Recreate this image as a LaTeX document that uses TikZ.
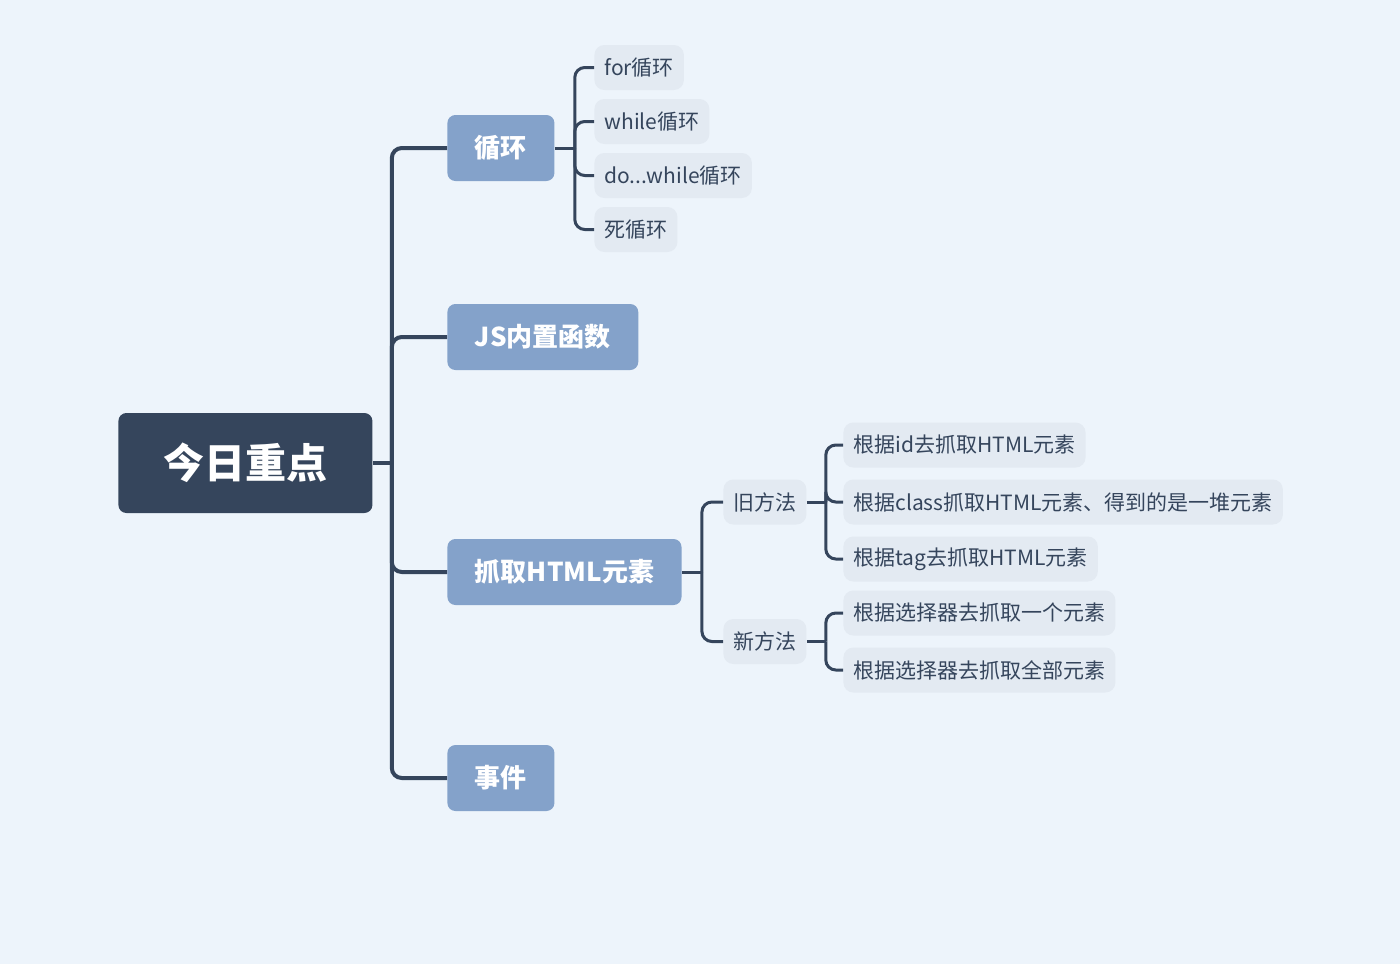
\documentclass[tikz,border=0pt]{standalone}
\usepackage{fontspec}
\setmainfont{Noto Sans CJK SC}
\definecolor{bgcol}{HTML}{EDF4FB}
\definecolor{rootcol}{HTML}{35455C}
\definecolor{topiccol}{HTML}{84A2CA}
\definecolor{leafcol}{HTML}{E3EAF2}
\tikzset{
  rootbox/.style={fill=rootcol, text=white, rounded corners=4pt, anchor=west,
    font=\bfseries\fontsize{20.5pt}{24pt}\selectfont, minimum width=127pt, minimum height=50pt},
  topicbox/.style={fill=topiccol, text=white, rounded corners=4pt, anchor=west,
    font=\bfseries\fontsize{13pt}{15pt}\selectfont, inner xsep=13.75pt, minimum height=33pt},
  leafbox/.style={fill=leafcol, text=rootcol, rounded corners=5pt, anchor=west,
    font=\fontsize{10.5pt}{12pt}\selectfont, inner xsep=5pt, minimum height=22.5pt},
  branch/.style={draw=rootcol, line width=2pt, rounded corners=5pt},
  twig/.style={draw=rootcol, line width=1.5pt, rounded corners=5pt}
}
\begin{document}
\begin{tikzpicture}[x=0.5pt, y=-0.5pt]
  % Background
  \fill[bgcol] (0,0) rectangle (1400,964);
  \useasboundingbox (0,0) rectangle (1400,964);
  % Root
  \node[rootbox] (root) at (118,463) {今日重点};
  % Topics
  \node[topicbox] (loop)  at (447,148) {循环};
  \node[topicbox] (jsfn)  at (447,337) {JS内置函数};
  \node[topicbox] (grab)  at (447,572) {抓取HTML元素};
  \node[topicbox] (event) at (447,778) {事件};
  % Loop leaves
  \node[leafbox] (forloop)   at (594,67.5)  {for循环};
  \node[leafbox] (whileloop) at (594,121.5) {while循环};
  \node[leafbox] (doloop)    at (594,175.5) {do...while循环};
  \node[leafbox] (deadloop)  at (594,229.5) {死循环};
  % Grab: old and new
  \node[leafbox] (oldway) at (723,502)   {旧方法};
  \node[leafbox] (newway) at (723,641.5) {新方法};
  \node[leafbox] (byid)    at (843,445) {根据id去抓取HTML元素};
  \node[leafbox] (byclass) at (843,502) {根据class抓取HTML元素、得到的是一堆元素};
  \node[leafbox] (bytag)   at (843,559) {根据tag去抓取HTML元素};
  \node[leafbox] (selone)  at (843,613) {根据选择器去抓取一个元素};
  \node[leafbox] (selall)  at (843,670) {根据选择器去抓取全部元素};
  % Root connectors
  \coordinate (rootj) at ([xshift=9.5pt]root.east);
  \draw[branch] (root.east) -- (rootj);
  \foreach \t in {loop,jsfn,grab,event}
    \draw[branch] (rootj) |- (\t.west);
  % Loop connectors
  \coordinate (loopj) at ([xshift=10pt]loop.east);
  \draw[twig] (loop.east) -- (loopj);
  \foreach \t in {forloop,whileloop,doloop,deadloop}
    \draw[twig] (loopj) |- (\t.west);
  % Grab connectors
  \coordinate (grabj) at ([xshift=10pt]grab.east);
  \draw[twig] (grab.east) -- (grabj);
  \foreach \t in {oldway,newway}
    \draw[twig] (grabj) |- (\t.west);
  \coordinate (oldj) at ([xshift=9.5pt]oldway.east);
  \draw[twig] (oldway.east) -- (oldj);
  \foreach \t in {byid,byclass,bytag}
    \draw[twig] (oldj) |- (\t.west);
  \coordinate (newj) at ([xshift=9.5pt]newway.east);
  \draw[twig] (newway.east) -- (newj);
  \foreach \t in {selone,selall}
    \draw[twig] (newj) |- (\t.west);
\end{tikzpicture}
\end{document}
